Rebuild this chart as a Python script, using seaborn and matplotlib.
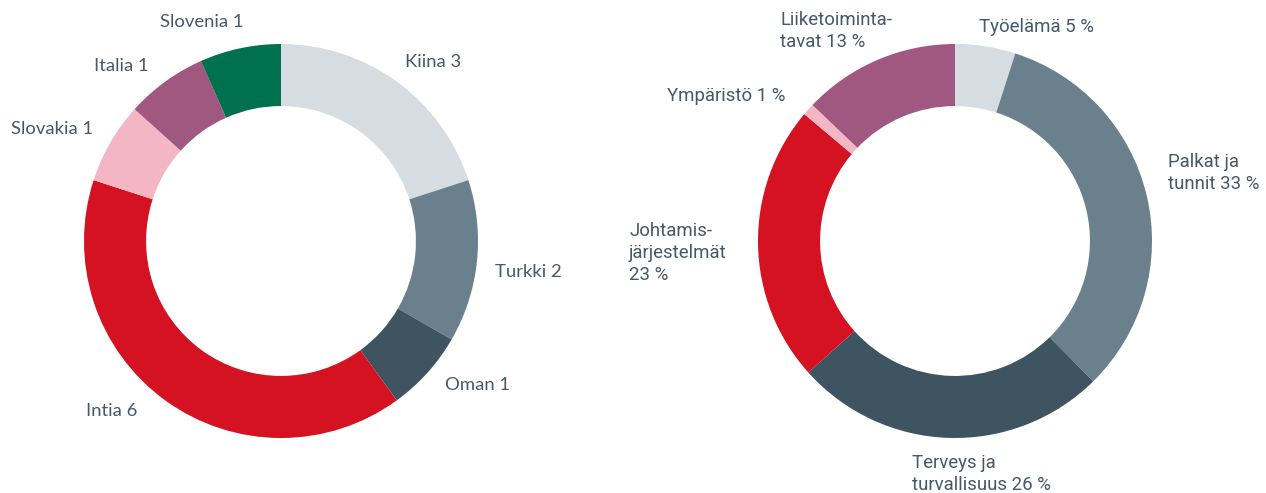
import matplotlib
matplotlib.use("Agg")
import matplotlib.pyplot as plt
import seaborn as sns
import numpy as np

sns.set_theme(style="white")
plt.rcParams['font.family'] = ['Lato', 'DejaVu Sans']

# Left donut: countries
countries = ["Kiina", "Turkki", "Oman", "Intia", "Slovakia", "Italia", "Slovenia"]
country_counts = [3, 2, 1, 6, 1, 1, 1]
country_colors = ["#d5dce2", "#6b808d", "#3e5561", "#d41221", "#f4b6c4", "#a05880", "#00704f"]

# Right donut: topics
topics = ["Työelämä", "Palkat ja\ntunnit", "Terveys ja\nturvallisuus", "Johtamis-\njärjestelmät\n",
          "Ympäristö", "Liiketoiminta-\ntavat"]
topic_pct = [5, 33, 26, 23, 1, 13]
topic_colors = ["#d5dce2", "#6b808d", "#3e5561", "#d41221", "#f4b6c4", "#a05880"]

TEXT = "#44596a"
W, H = 1266, 493
fig = plt.figure(figsize=(W / 100, H / 100), dpi=100)
R = 197


def make_ax(cx, cy):
    ax = fig.add_axes([(cx - R) / W, (H - cy - R) / H, 2 * R / W, 2 * R / H])
    return ax


def px(ax_cx, ax_cy, x, y):
    return (x - ax_cx) / R, (ax_cy - y) / R


# ---- left
cxL, cyL = 281, 241
axL = make_ax(cxL, cyL)
axL.pie(country_counts, colors=country_colors, startangle=90, counterclock=False,
        wedgeprops=dict(width=0.315, linewidth=0), radius=1)
axL.set_xlim(-1, 1); axL.set_ylim(-1, 1); axL.set_aspect('auto'); axL.axis('off')

left_pos = {"Kiina": (405, 62), "Turkki": (495, 272), "Oman": (445, 385), "Intia": (86, 411),
            "Slovakia": (11, 129), "Italia": (94, 66), "Slovenia": (160, 22)}
for name, v in zip(countries, country_counts):
    x, y = px(cxL, cyL, *left_pos[name])
    axL.text(x, y, f"{name} {v}", ha="left", va="center", fontsize=13.3, color=TEXT, clip_on=False)

# ---- right
cxR, cyR = 955, 241
axR = make_ax(cxR, cyR)
axR.pie(topic_pct, colors=topic_colors, startangle=90, counterclock=False,
        wedgeprops=dict(width=0.315, linewidth=0), radius=1)
axR.set_xlim(-1, 1); axR.set_ylim(-1, 1); axR.set_aspect('auto'); axR.axis('off')

right_pos = [(979, 27), (1168, 173), (912, 474), (629, 253), (667, 96), (780, 31)]
rfont = ['Roboto', 'DejaVu Sans']
for name, v, (x0, y0) in zip(topics, topic_pct, right_pos):
    label = f"{name} {v} %" if not name.endswith("\n") else f"{name}{v} %"
    x, y = px(cxR, cyR, x0, y0)
    axR.text(x, y, label, ha="left", va="center", fontsize=13.4, color=TEXT,
             family=rfont, linespacing=1.28, clip_on=False)

fig.savefig("out.png", dpi=100, facecolor="white")
